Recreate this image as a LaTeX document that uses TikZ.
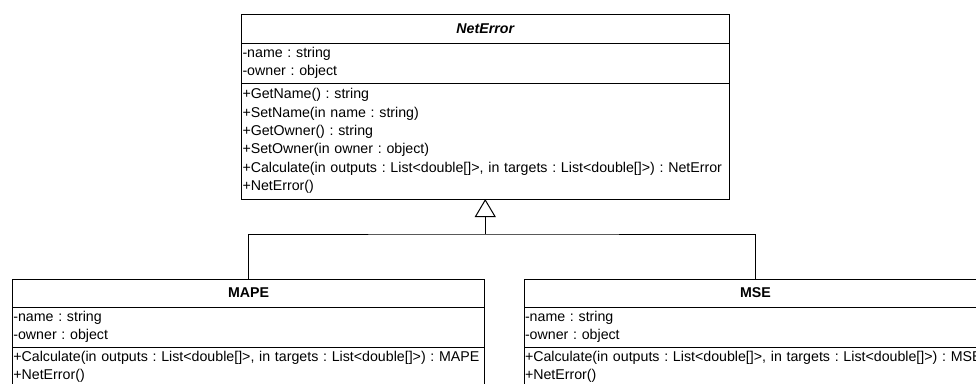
\documentclass[tikz,border=0pt]{standalone}
\usepackage{fontspec}
\setmainfont{Liberation Sans}
\usetikzlibrary{arrows.meta, positioning, calc}
\newcommand{\umlfont}{\fontsize{14.2pt}{18.3pt}\selectfont\frenchspacing}

\begin{document}
\begin{tikzpicture}[x=1pt,y=1pt,node distance=0pt,line width=1pt,
  class title/.style={draw,outer sep=0pt,inner sep=0pt,minimum height=29pt,
    text width=#1,align=center,font=\umlfont\bfseries},
  class part/.style={draw,outer sep=0pt,inner xsep=1pt,inner ysep=0pt,
    minimum height=40pt,text width=#1,align=left,font=\umlfont},
  inherit/.style={-{Triangle[open,length=18pt,width=21pt]}}]
  \useasboundingbox (0,0) rectangle (976,-383);
  \node[class title=487.5pt, font=\umlfont\bfseries\itshape] (netError) at (485.25,-28.5) {NetError};
  \node[class part=485.5pt, below=of netError] (netErrorAttr) {-name : string\\-owner : object};
  \node[class part=485.5pt, minimum height=116pt, below=of netErrorAttr] (netErrorOps)
    {+GetName() : string\\+SetName(in name : string)\\+GetOwner() : string\\+SetOwner(in owner : object)\\
     \mbox{+Calculate(in outputs : List<double[]>, in targets : List<double[]>) : NetError}\\+NetError()};
  \node[class title=472.5pt, minimum height=28pt] (mape) at (248.6,-293) {MAPE};
  \node[class part=470.5pt, below=of mape] (mapeAttr) {-name : string\\-owner : object};
  \node[class part=470.5pt, below=of mapeAttr] (mapeOps)
    {\mbox{+Calculate(in outputs : List<double[]>, in targets : List<double[]>) : MAPE}\\+NetError()};
  \node[class title=463pt, minimum height=28pt] (mse) at (755.5,-293) {MSE};
  \node[class part=461pt, below=of mse] (mseAttr) {-name : string\\-owner : object};
  \node[class part=461pt, below=of mseAttr] (mseOps)
    {\mbox{+Calculate(in outputs : List<double[]>, in targets : List<double[]>) : MSE}\\+NetError()};
  \coordinate (join) at ($(netErrorOps.south)+(0,-35)$);
  \draw (mape.north) |- (join) -| (mse.north);
  \draw[inherit] (join) -- (netErrorOps.south);
\end{tikzpicture}
\end{document}
